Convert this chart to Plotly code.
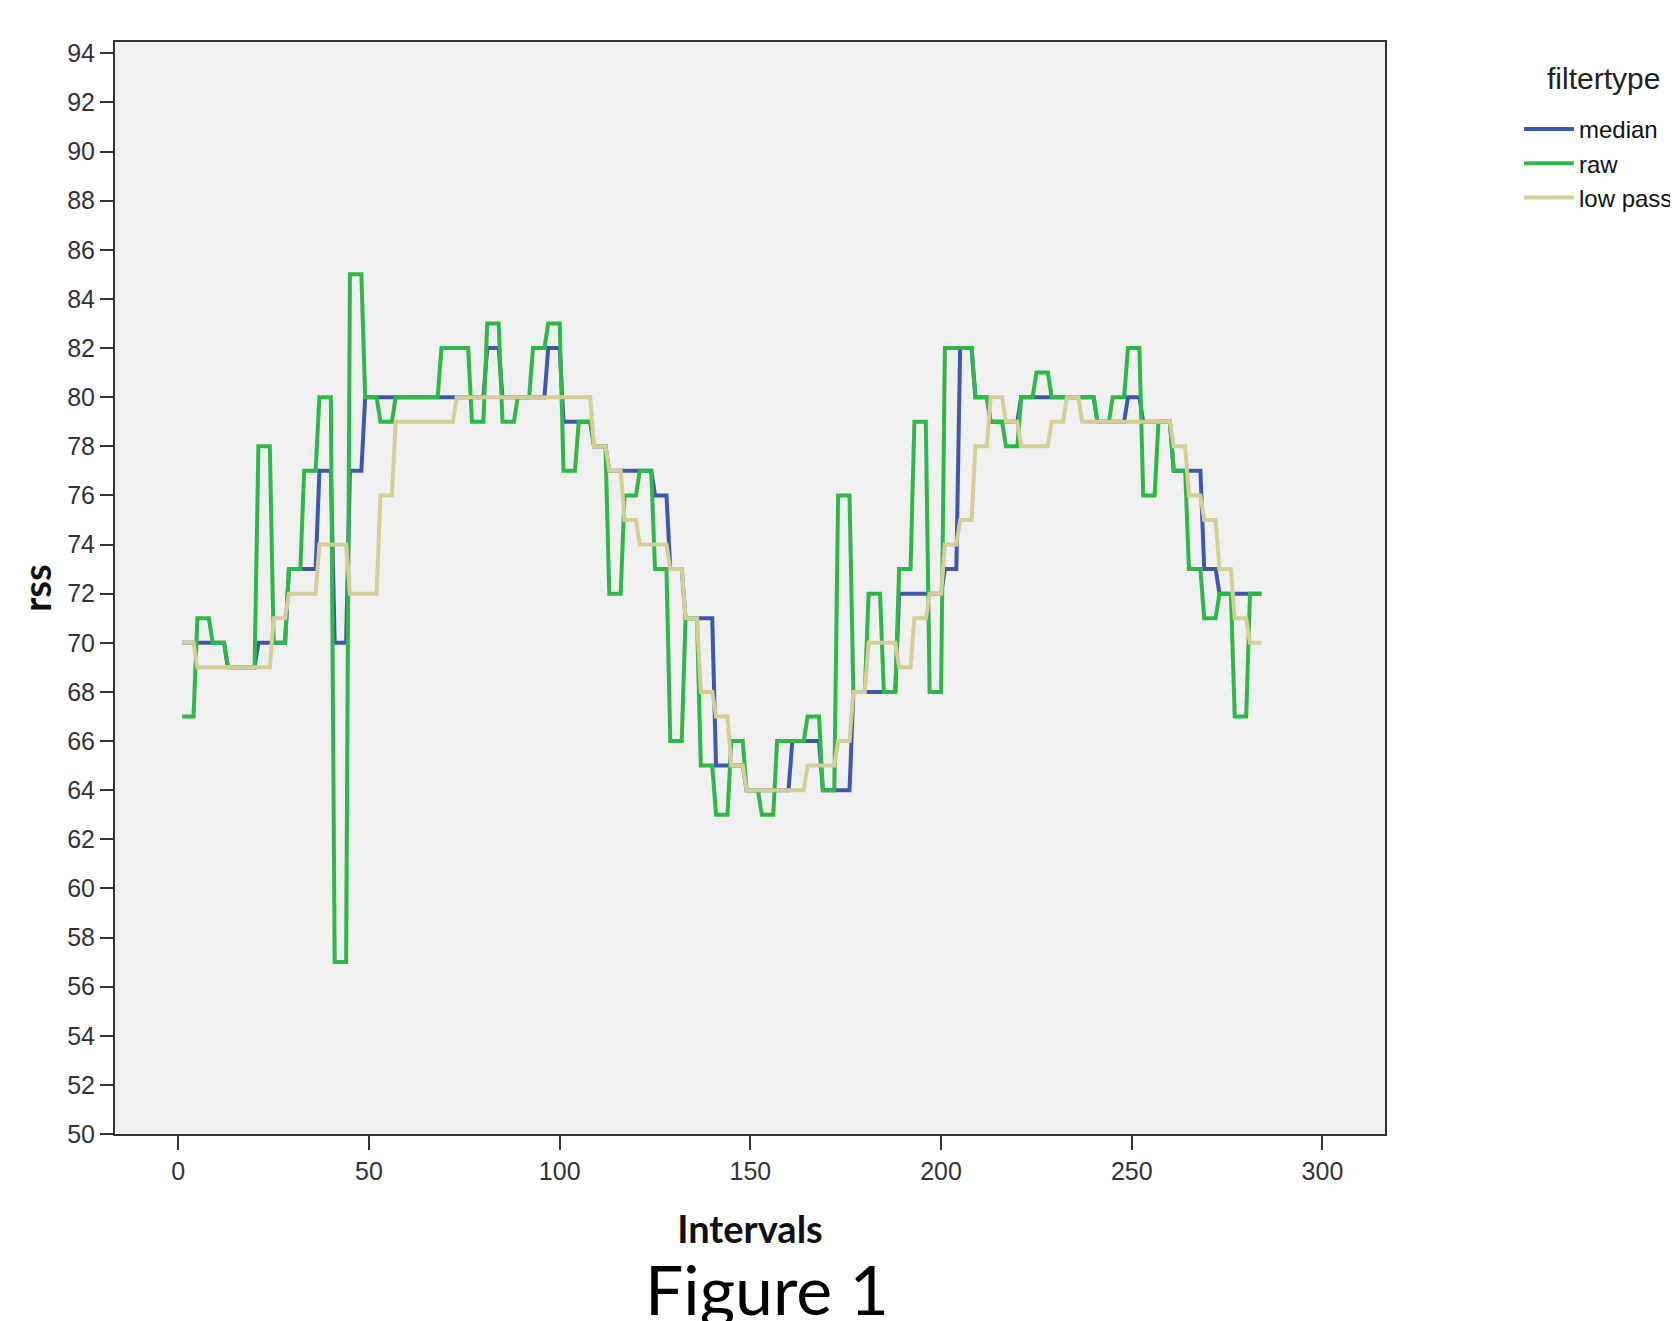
import numpy as np
import plotly.graph_objects as go

# rss readings, one value per block of 4 intervals (intervals 1..284)
BLOCK = 4
median_rss = [70, 70, 70, 69, 69, 70, 70, 73, 73, 77, 70, 77,
              80, 80, 80, 80, 80, 80, 80, 80, 82, 80, 80, 80, 82,
              79, 79, 78, 77, 77, 77, 76, 73, 71, 71, 65, 65, 64, 64, 64,
              66, 66, 64, 64, 68, 68, 68, 72, 72, 72, 73, 82, 80, 79, 79,
              80, 80, 80, 80, 80, 79, 79, 80, 79, 79, 77, 77, 73, 72, 72, 72]
raw_rss = [67, 71, 70, 69, 69, 78, 70, 73, 77, 80, 57, 85, 80, 79, 80, 80,
           80, 82, 82, 79, 83, 79, 80, 82, 83, 77, 79, 78, 72, 76, 77, 73,
           66, 71, 65, 63, 66, 64, 63, 66, 66, 67, 64, 76, 68, 72, 68, 73,
           79, 68, 82, 82, 80, 79, 78, 80, 81, 80, 80, 80, 79, 80, 82, 76,
           79, 77, 73, 71, 72, 67, 72]
lowpass_rss = [70, 69, 69, 69, 69, 69, 71, 72, 72, 74, 74, 72, 72, 76,
               79, 79, 79, 79, 80, 80, 80, 80, 80, 80, 80, 80, 80,
               78, 77, 75, 74, 74, 73, 71, 68, 67, 65, 64, 64, 64, 64,
               65, 65, 66, 68, 70, 70, 69, 71, 72, 74, 75, 78, 80, 79, 78, 78,
               79, 80, 79, 79, 79, 79, 79, 79, 78, 76, 75, 73, 71, 70]

series_names = ["median", "raw", "low pass"]
series_values = [median_rss, raw_rss, lowpass_rss]
series_colors = ["#3E58AC", "#2EB848", "#D3CE97"]

x_ticks = [0, 50, 100, 150, 200, 250, 300]
y_ticks = list(range(50, 95, 2))

fig = go.Figure()
for name, vals, col in zip(series_names, series_values, series_colors):
    y = np.repeat(np.array(vals), BLOCK)
    x = np.arange(1, len(y) + 1)
    fig.add_trace(go.Scatter(x=x, y=y, mode="lines", name=name,
                             line=dict(color=col, width=4)))

sans = "Liberation Sans, Arial, sans-serif"
tick_font = dict(family=sans, size=25, color="#333")
title_font = dict(family="Lato, sans-serif", size=38, color="#111", weight="bold")

fig.update_layout(
    width=1670, height=1313,
    paper_bgcolor="white", plot_bgcolor="#F0F0F0",
    margin=dict(l=107, r=293, t=34, b=187, autoexpand=False),
    showlegend=True,
    legend=dict(
        font=dict(family=sans, size=24, color="#111"),
        x=1.1055, xanchor="left", y=0.9405, yanchor="top",
        bgcolor="rgba(0,0,0,0)", itemwidth=50,
    ),
    xaxis=dict(
        range=[-16.6, 316.4], tickvals=x_ticks, showgrid=False, zeroline=False,
        ticks="outside", ticklen=14, tickwidth=2, tickcolor="#333",
        showline=True, mirror=True, linecolor="#333", linewidth=2,
        tickfont=tick_font,
        title=dict(text="Intervals", font=title_font, standoff=32),
    ),
    yaxis=dict(
        range=[50, 94.46], tickvals=y_ticks, showgrid=False, zeroline=False,
        ticks="outside", ticklen=13, tickwidth=2, tickcolor="#333",
        showline=True, mirror=True, linecolor="#333", linewidth=2,
        tickfont=tick_font,
        title=dict(text="rss", font=title_font, standoff=4),
    ),
    annotations=[
        dict(text="filtertype", xref="paper", yref="paper",
             x=1.1717, y=0.967, xanchor="center", yanchor="middle",
             showarrow=False, font=dict(family=sans, size=30, color="#222")),
        dict(text="Figure 1", xref="paper", yref="paper",
             x=0.5132, y=-0.1414, xanchor="center", yanchor="middle",
             showarrow=False, font=dict(family="Lato, sans-serif", size=68, color="#000")),
    ],
)

fig.write_html("out.html")
